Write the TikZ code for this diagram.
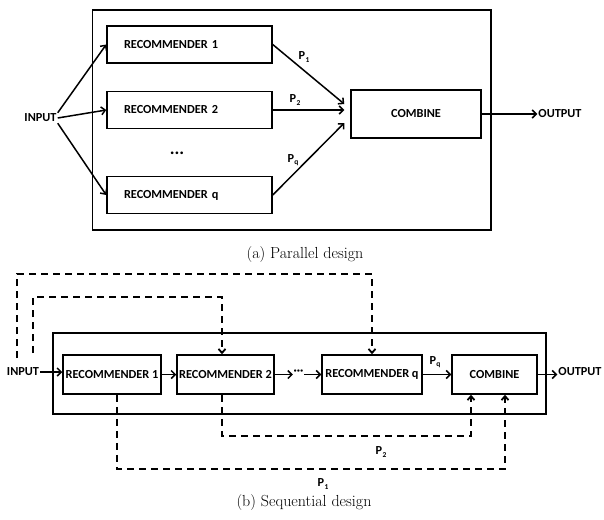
\documentclass[tikz,border=0pt]{standalone}
\usepackage{fontspec}
\newfontfamily\labfont{Carlito}
\usetikzlibrary{arrows.meta,calc}
\newcommand\Psub[1]{P\kern0.4pt\raisebox{-2.5pt}{\fontsize{7.5}{8}\selectfont #1}}
\tikzset{
  lbl/.style={font=\labfont\bfseries\fontsize{12.3}{14}\selectfont, inner sep=1pt},
  frame/.style={draw, line width=1.6pt, inner sep=0pt},
  recA/.style={draw, line width=1.5pt, lbl, minimum height=37pt, inner xsep=17pt, text width=131pt, align=left},
  recB/.style={draw, line width=1.5pt, lbl, minimum height=39pt, inner sep=0pt},
  arr/.style={line width=1.5pt, -{Straight Barb[length=4pt,width=8pt]}},
  dsh/.style={line width=1.8pt, dash pattern=on 7pt off 5pt},
  dsharr/.style={dsh, -{Straight Barb[length=4pt,width=7pt]}},
  captext/.style={font=\fontsize{16}{19}\selectfont, inner sep=0pt},
}
\begin{document}
\begin{tikzpicture}[x=1pt,y=-1pt]
\useasboundingbox (0,0) rectangle (604,519);
% ---------- (a) parallel ----------
\node[frame, minimum width=398.6pt, minimum height=220pt] (boxA) at (291.7,120) {};
\node[recA] (r1a) at (189.5,44.5) {RECOMMENDER 1};
\node[recA] (r2a) at (189.5,110) {RECOMMENDER 2};
\node[recA] (rqa) at (189.5,195) {RECOMMENDER q};
\node[draw, line width=1.5pt, lbl, minimum width=130pt, minimum height=48pt] (ca) at (416,114) {COMBINE};
\node[lbl] (inA) at (40.5,118) {INPUT};
\node[lbl] (outA) at (560,114) {OUTPUT};
\node[lbl, font=\labfont\bfseries\fontsize{18}{18}\selectfont] (dotsA) at (177,153) {...};
\draw[arr] (inA.north east) -- (r1a.west);
\draw[arr] (inA.east) -- (r2a.west);
\draw[arr] (inA.south east) -- (rqa.west);
\draw[arr] (r1a.east) -- ([xshift=-6pt,yshift=10pt]ca.west);
\draw[arr] (r2a.east) -- ([xshift=-6pt]ca.west |- r2a.east);
\draw[arr] (rqa.east) -- ([xshift=-6pt,yshift=-9pt]ca.west);
\draw[arr] (ca.east) -- (outA.west);
\node[lbl] (p1a) at (304,57) {\Psub{1}};
\node[lbl] (p2a) at (295,100) {\Psub{2}};
\node[lbl] (pqa) at (293,160) {\Psub{q}};
\node[captext] (capA) at (305,255) {(a) Parallel design};
% ---------- (b) sequential ----------
\node[frame, minimum width=493.2pt, minimum height=81pt] (boxB) at (299.4,373.5) {};
\node[recB, minimum width=98pt] (r1b) at (112,374.5) {RECOMMENDER 1};
\node[recB, minimum width=97pt] (r2b) at (225.5,374.5) {RECOMMENDER 2};
\node[recB, minimum width=100pt] (rqb) at (372,374.5) {RECOMMENDER q};
\node[recB, minimum width=85pt] (cb) at (494.5,374.5) {COMBINE};
\node[lbl] (inB) at (23,372) {INPUT};
\node[lbl] (outB) at (580,372) {OUTPUT};
\node[lbl, inner sep=0.5pt] (dotsB) at (298.5,372) {\char"00B7\char"00B7\char"00B7};
\draw[arr] (inB.east) -- (r1b.west |- inB.east);
\draw[arr] (r1b.east) -- (r2b.west);
\draw[arr] (r2b.east) -- (dotsB.west |- r2b.east);
\draw[arr] (dotsB.east |- rqb.west) -- (rqb.west);
\draw[arr] (rqb.east) -- (cb.west);
\draw[arr] (cb.east) -- (outB.west |- cb.east);
\node[lbl] (pqb) at (435,362) {\Psub{q}};
\coordinate (s1) at (17,358);
\coordinate (s2) at (33,353);
\draw[dsharr] (s1) -- (17,274) -| (rqb.north);
\draw[dsharr] (s2) -- (33,297) -| ([xshift=-3.5pt]r2b.north);
\draw[dsharr] ([xshift=5pt]r1b.south) -- ++(0,74) -| ([xshift=10.5pt]cb.south);
\draw[dsharr] ([xshift=-3.5pt]r2b.south) -- ++(0,41) -| ([xshift=-23.5pt]cb.south);
\node[lbl] (p2b) at (381,452) {\Psub{2}};
\node[lbl] (p1b) at (323,484) {\Psub{1}};
\node[captext] (capB) at (304,502) {(b) Sequential design};
\end{tikzpicture}
\end{document}
